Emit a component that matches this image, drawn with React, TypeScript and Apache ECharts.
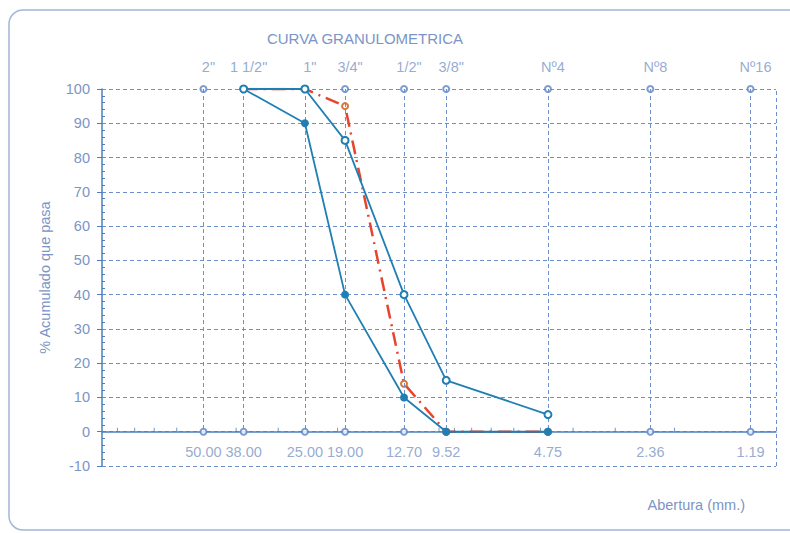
import React, { useEffect, useRef } from "react";
import * as echarts from "echarts";

const sieveLabels = ['2"', '1 1/2"', '1"', '3/4"', '1/2"', '3/8"', "Nº4", "Nº8", "Nº16"];
const sieveOpenings = [50, 38, 25, 19, 12.7, 9.52, 4.75, 2.36, 1.19];
const openingLabels = ["50.00", "38.00", "25.00", "19.00", "12.70", "9.52", "4.75", "2.36", "1.19"];

const lowerLimit: [number, number][] = [[38, 100], [25, 90], [19, 40], [12.7, 10], [9.52, 0], [4.75, 0]];
const upperLimit: [number, number][] = [[38, 100], [25, 100], [19, 85], [12.7, 40], [9.52, 15], [4.75, 5]];
const sample: [number, number][] = [[38, 100], [25, 100], [19, 95], [12.7, 14], [9.52, 0], [4.75, 0]];

const xMinorTicks = [90, 80, 70, 60, 50, 40, 30, 20, 10, 9, 8, 7, 6, 5, 4, 3, 2];
const yTickLabels = [-10, 0, 10, 20, 30, 40, 50, 60, 70, 80, 90, 100];

const TEXT = "#7b95c6";
const GRIDC = "#6f8fcb";
const AXISC = "#4c7fc0";
const LINEC = "#1f7fb4";
const RED = "#e8432c";
const FONT = "Liberation Sans, Arial, sans-serif";
const FS = 14.5;

export default function App() {
  const ref = useRef<HTMLDivElement>(null);
  useEffect(() => {
    if (!ref.current) return;
    const chart = echarts.init(ref.current, null, { renderer: "svg" });
    const option: any = {
      animation: false,
      backgroundColor: "#ffffff",
      textStyle: { fontFamily: FONT },
      title: {
        text: "CURVA GRANULOMETRICA",
        left: 360,
        top: 26,
        textAlign: "center",
        textStyle: { color: TEXT, fontSize: 15, fontWeight: "normal", fontFamily: FONT },
      },
      graphic: [
        {
          type: "rect",
          shape: { x: 9, y: 10, width: 800, height: 520, r: 14 },
          style: { fill: "none", stroke: "#a3b7d6", lineWidth: 1.5 },
          silent: true,
          z: -10,
        },
        {
          type: "text",
          x: 745,
          y: 505,
          style: {
            text: "Abertura (mm.)",
            fill: TEXT,
            fontSize: FS,
            fontFamily: FONT,
            align: "right",
            verticalAlign: "middle",
          },
          silent: true,
        },
      ],
      grid: { left: 102, right: 14, top: 89, bottom: 67, containLabel: false, outerBoundsMode: "none" },
      xAxis: {
        type: "log",
        logBase: 10,
        min: 1,
        max: 100,
        inverse: true,
        axisLine: { show: true, onZero: true, lineStyle: { color: AXISC, width: 1.5 } },
        axisTick: { show: false },
        axisLabel: { show: false },
        splitLine: { show: false },
        minorTick: { show: false },
        minorSplitLine: { show: false },
      },
      yAxis: [
        {
          type: "value",
          min: -10,
          max: 100,
          interval: 10,
          name: "% Acumulado que pasa",
          nameLocation: "middle",
          nameGap: 50,
          nameRotate: 90,
          nameTextStyle: { color: TEXT, fontSize: FS, fontFamily: FONT },
          axisLine: { show: true, lineStyle: { color: AXISC, width: 1.5 } },
          axisTick: { show: true, length: 5, lineStyle: { color: AXISC } },
          axisLabel: {
            color: TEXT,
            fontSize: FS,
            fontFamily: FONT,
            margin: 12,
            formatter: (v: number) => (yTickLabels.indexOf(v) >= 0 ? String(v) : ""),
          },
          splitLine: { show: true, lineStyle: { color: GRIDC, type: [4, 3], width: 1 } },
        },
        {
          type: "value",
          min: -10,
          max: 100,
          interval: 10,
          position: "left",
          axisLine: { show: false },
          axisTick: { show: false, inside: true, length: 4 },
          axisLabel: { show: false },
          splitLine: { show: false },
          minorTick: { show: true, splitNumber: 5, length: 3, lineStyle: { color: AXISC } },
        },
      ],
      series: [
        {
          name: "tamices",
          type: "scatter",
          symbol: "emptyCircle",
          symbolSize: 6,
          itemStyle: { color: "#5b84c6", borderWidth: 1 },
          data: sieveOpenings.map((v, i) => ({ value: [v, 100], name: sieveLabels[i] })),
          label: {
            show: true,
            position: "top",
            distance: 11,
            offset: [5, 0],
            color: TEXT,
            fontSize: FS,
            fontFamily: FONT,
            formatter: (p: any) => p.name,
          },
          markLine: {
            silent: true,
            symbol: "none",
            label: { show: false },
            lineStyle: { color: GRIDC, type: [4, 3], width: 1 },
            data: [
              ...sieveOpenings.map((v) => [{ coord: [v, 100] }, { coord: [v, 0] }]),
              { xAxis: 1 },
            ],
          },
          z: 3,
        },
        {
          name: "aberturas",
          type: "scatter",
          symbol: "emptyCircle",
          symbolSize: 6,
          itemStyle: { color: "#5b84c6", borderWidth: 1 },
          data: sieveOpenings.map((v, i) => ({ value: [v, 0], name: openingLabels[i] })),
          label: {
            show: true,
            position: "bottom",
            distance: 9,
            color: TEXT,
            fontSize: FS,
            fontFamily: FONT,
            formatter: (p: any) => p.name,
          },
          z: 3,
        },
        {
          name: "ticks",
          type: "scatter",
          symbol: "rect",
          symbolSize: [1, 4],
          symbolOffset: [0, -2],
          itemStyle: { color: AXISC },
          data: xMinorTicks.map((v) => [v, 0]),
          silent: true,
          z: 2,
        },
        {
          name: "Muestra",
          type: "line",
          data: sample,
          symbol: "emptyCircle",
          symbolSize: 6,
          lineStyle: { color: RED, width: 2.5, type: [14, 6, 2, 6] },
          itemStyle: { color: "#d9773a", borderWidth: 1 },
          z: 4,
        },
        {
          name: "Límite inferior",
          type: "line",
          data: lowerLimit,
          symbol: "circle",
          symbolSize: 8,
          lineStyle: { color: LINEC, width: 1.8 },
          itemStyle: { color: LINEC },
          z: 5,
        },
        {
          name: "Límite superior",
          type: "line",
          data: upperLimit,
          symbol: "emptyCircle",
          symbolSize: 7,
          lineStyle: { color: LINEC, width: 1.8 },
          itemStyle: { color: LINEC, borderWidth: 1.5 },
          z: 5,
        },
      ],
    };
    chart.setOption(option);
    return () => chart.dispose();
  }, []);
  return (
    <div
      ref={ref}
      style={{ position: "fixed", left: 0, top: 0, width: 790, height: 533 }}
    />
  );
}
